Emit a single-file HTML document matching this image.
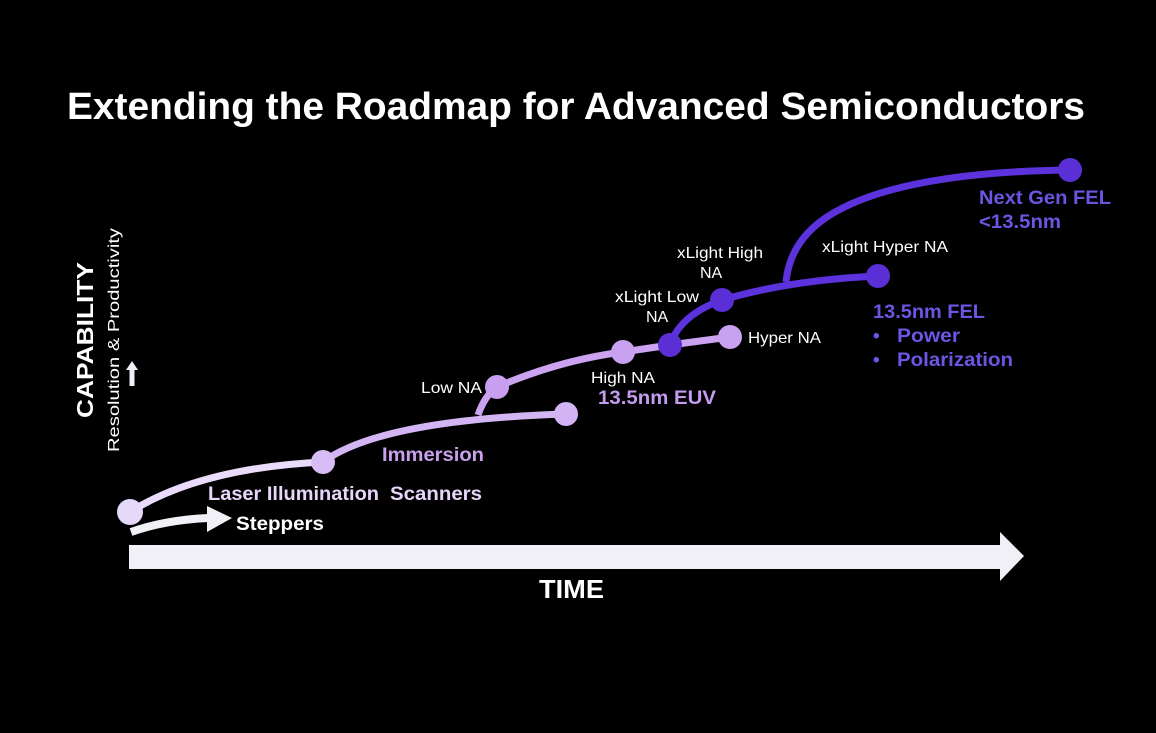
<!DOCTYPE html>
<html><head><meta charset="utf-8"><style>
html,body{margin:0;padding:0;background:#000;}
svg{display:block;}
text{font-family:"Liberation Sans",Arial,sans-serif;}
</style></head><body>
<svg width="1156" height="733" viewBox="0 0 1156 733" xmlns="http://www.w3.org/2000/svg">
<rect width="1156" height="733" fill="#000"/>
<text x="67" y="119" font-size="38" font-weight="bold" fill="#fff" textLength="1018" lengthAdjust="spacingAndGlyphs">Extending the Roadmap for Advanced Semiconductors</text>

<text transform="translate(93,418) rotate(-90)" font-size="23" font-weight="bold" fill="#fff" textLength="156" lengthAdjust="spacingAndGlyphs">CAPABILITY</text>
<text transform="translate(119,452) rotate(-90)" font-size="16" fill="#fff" textLength="224" lengthAdjust="spacingAndGlyphs">Resolution &amp; Productivity</text>
<polygon points="132,361 138,370 134.5,370 134.5,386 129.5,386 129.5,370 126,370" fill="#f0eef6"/>

<polygon points="129,545 1000,545 1000,532 1024,556 1000,581 1000,569 129,569" fill="#f1f0f6"/>
<text x="539" y="598" font-size="26" font-weight="bold" fill="#fff" textLength="65" lengthAdjust="spacingAndGlyphs">TIME</text>

<path d="M131,532 Q165,520 208,518" stroke="#f1f0f6" stroke-width="8" fill="none"/>
<polygon points="207,506 232,518 207,532" fill="#f1f0f6"/>
<text x="236" y="530" font-size="19" font-weight="bold" fill="#fff" textLength="88" lengthAdjust="spacingAndGlyphs">Steppers</text>

<path d="M130,512 Q200,468 323,462" stroke="#e9dbf9" stroke-width="7" fill="none"/>
<path d="M323,462 Q380,420 566,414" stroke="#d4b5f4" stroke-width="7" fill="none"/>
<path d="M478,415 Q485,395 497,387 Q560,360 623,352 L670,345 L730,337" stroke="#cba3f1" stroke-width="7" fill="none"/>
<circle cx="130" cy="512" r="13" fill="#e6d8f9"/>
<circle cx="323" cy="462" r="12" fill="#d8bdf5"/>
<circle cx="566" cy="414" r="12" fill="#d2b3f4"/>
<circle cx="497" cy="387" r="12" fill="#c79ef0"/>
<circle cx="623" cy="352" r="12" fill="#c9a1f1"/>
<circle cx="730" cy="337" r="12" fill="#c9a1f1"/>

<path d="M670,345 Q680,315 722,300 Q790,280 878,276" stroke="#5b32dc" stroke-width="7" fill="none"/>
<path d="M786,282 Q790,240 830,215 Q900,172 1070,170" stroke="#5b32dc" stroke-width="7" fill="none"/>
<circle cx="670" cy="345" r="12" fill="#5a30d6"/>
<circle cx="722" cy="300" r="12" fill="#5a30d6"/>
<circle cx="878" cy="276" r="12" fill="#5a30d6"/>
<circle cx="1070" cy="170" r="12" fill="#5a30d6"/>

<text x="208" y="500" font-size="19" font-weight="bold" fill="#e6d6f8" textLength="171" lengthAdjust="spacingAndGlyphs">Laser Illumination</text>
<text x="390" y="500" font-size="19" font-weight="bold" fill="#e6d6f8" textLength="92" lengthAdjust="spacingAndGlyphs">Scanners</text>
<text x="382" y="461" font-size="19" font-weight="bold" fill="#c9a0ee" textLength="102" lengthAdjust="spacingAndGlyphs">Immersion</text>
<text x="421" y="393" font-size="16" fill="#fff" textLength="61" lengthAdjust="spacingAndGlyphs">Low NA</text>
<text x="591" y="383" font-size="16" fill="#fff" textLength="64" lengthAdjust="spacingAndGlyphs">High NA</text>
<text x="598" y="404" font-size="19" font-weight="bold" fill="#c39cf0" textLength="118" lengthAdjust="spacingAndGlyphs">13.5nm EUV</text>
<text x="748" y="343" font-size="16" fill="#fff" textLength="73" lengthAdjust="spacingAndGlyphs">Hyper NA</text>
<text x="615" y="302" font-size="16" fill="#fff" textLength="84" lengthAdjust="spacingAndGlyphs">xLight Low</text>
<text x="646" y="322" font-size="16" fill="#fff">NA</text>
<text x="677" y="258" font-size="16" fill="#fff" textLength="86" lengthAdjust="spacingAndGlyphs">xLight High</text>
<text x="700" y="278" font-size="16" fill="#fff">NA</text>
<text x="822" y="252" font-size="16" fill="#fff" textLength="126" lengthAdjust="spacingAndGlyphs">xLight Hyper NA</text>
<text x="873" y="318" font-size="19" font-weight="bold" fill="#6b56e4" textLength="112" lengthAdjust="spacingAndGlyphs">13.5nm FEL</text>
<text x="873" y="342" font-size="19" font-weight="bold" fill="#6b56e4">•</text>
<text x="897" y="342" font-size="19" font-weight="bold" fill="#6b56e4" textLength="63" lengthAdjust="spacingAndGlyphs">Power</text>
<text x="873" y="366" font-size="19" font-weight="bold" fill="#6b56e4">•</text>
<text x="897" y="366" font-size="19" font-weight="bold" fill="#6b56e4" textLength="116" lengthAdjust="spacingAndGlyphs">Polarization</text>
<text x="979" y="204" font-size="19" font-weight="bold" fill="#6b56e4" textLength="132" lengthAdjust="spacingAndGlyphs">Next Gen FEL</text>
<text x="979" y="228" font-size="19" font-weight="bold" fill="#6b56e4" textLength="82" lengthAdjust="spacingAndGlyphs">&lt;13.5nm</text>
</svg>
</body></html>
